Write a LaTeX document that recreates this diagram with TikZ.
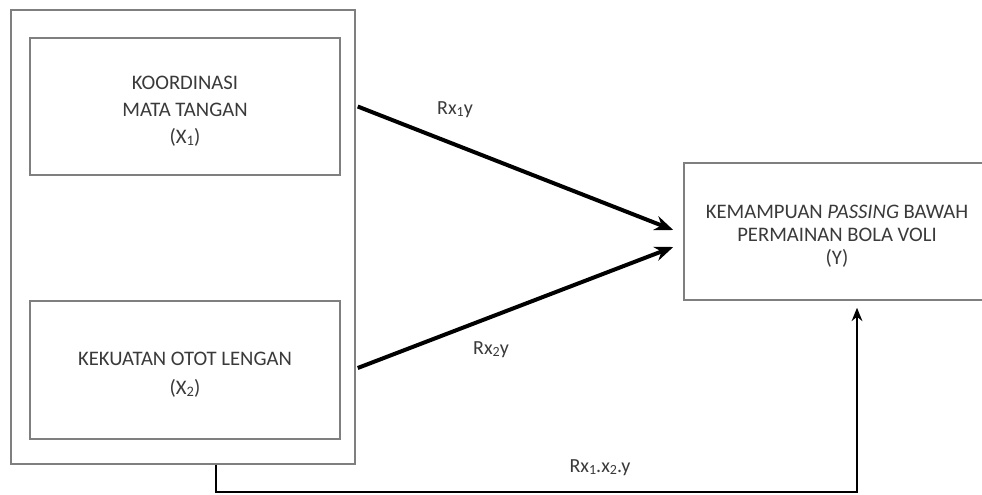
\documentclass[tikz,border=0pt]{standalone}
\usepackage{fontspec}
\setmainfont{Carlito}
\usetikzlibrary{positioning, calc, arrows.meta}

\definecolor{boxgray}{HTML}{7F7F7F}
\definecolor{textgray}{HTML}{3A3A3A}

\newcommand{\idx}[1]{\raisebox{-0.2ex}{\scalebox{0.7}{#1}}}

\tikzset{
  varbox/.style={draw=boxgray, line width=1.1pt, inner sep=0pt},
  vartext/.style={align=center, text=textgray, font=\fontsize{15.5}{20}\selectfont, yshift=-3.5pt},
  relarrow/.style={draw=black, line width=3pt, -{Stealth[length=14pt, width=11pt]}},
  rellabel/.style={text=textgray, font=\fontsize{15}{16}\selectfont}
}

\begin{document}
\begin{tikzpicture}[x=0.75pt, y=-0.75pt]
    \clip (0,0) rectangle (982,494);
    \fill[white] (0,0) rectangle (982,494);
    % Variables X
    \node[varbox, minimum width=344*0.75pt, minimum height=454*0.75pt] (outer) at (183,237) {};
    \node[varbox, minimum width=310*0.75pt, minimum height=137*0.75pt,
      label={[vartext]center:KOORDINASI\\MATA TANGAN\\(X\idx{1})}] (koordinasi) at (185,106.5) {};
    \node[varbox, minimum width=310*0.75pt, minimum height=138*0.75pt,
      label={[vartext]center:KEKUATAN OTOT LENGAN\\[2pt](X\idx{2})}] (kekuatan) at (185,370) {};
    % Variable Y
    \node[varbox, minimum width=306*0.75pt, minimum height=137*0.75pt,
      label={[vartext, font=\fontsize{15.5}{17}\selectfont]center:KEMAMPUAN \textit{PASSING} BAWAH\\PERMAINAN BOLA VOLI\\(Y)}] (passing) at (837,231.5) {};
    % Relations
    \coordinate (tip1) at ($(passing.west)+(-10,-1.5)$);
    \coordinate (tip2) at ($(passing.west)+(-10,15.5)$);
    \draw[relarrow] (outer.east |- koordinasi.center) ++(2,0) -- (tip1);
    \draw[relarrow] (outer.east |- kekuatan.center) ++(2,-2) -- (tip2);
    \node[rellabel] (r1) at (455,110) {Rx\idx{1}y};
    \node[rellabel] (r2) at (491,350) {Rx\idx{2}y};
    % Joint relation
    \coordinate (c1) at ($(outer.south)+(33,0)$);
    \coordinate (c2) at (216,492);
    \coordinate (c3) at (857,492);
    \draw[line width=2pt, -{Stealth[length=10pt, width=8pt]}, shorten >=7*0.75pt]
      (c1) -- (c2) -- (c3) -- (c3 |- passing.south);
    \node[rellabel] (r3) at (600,468) {Rx\idx{1}.x\idx{2}.y};
\end{tikzpicture}
\end{document}
